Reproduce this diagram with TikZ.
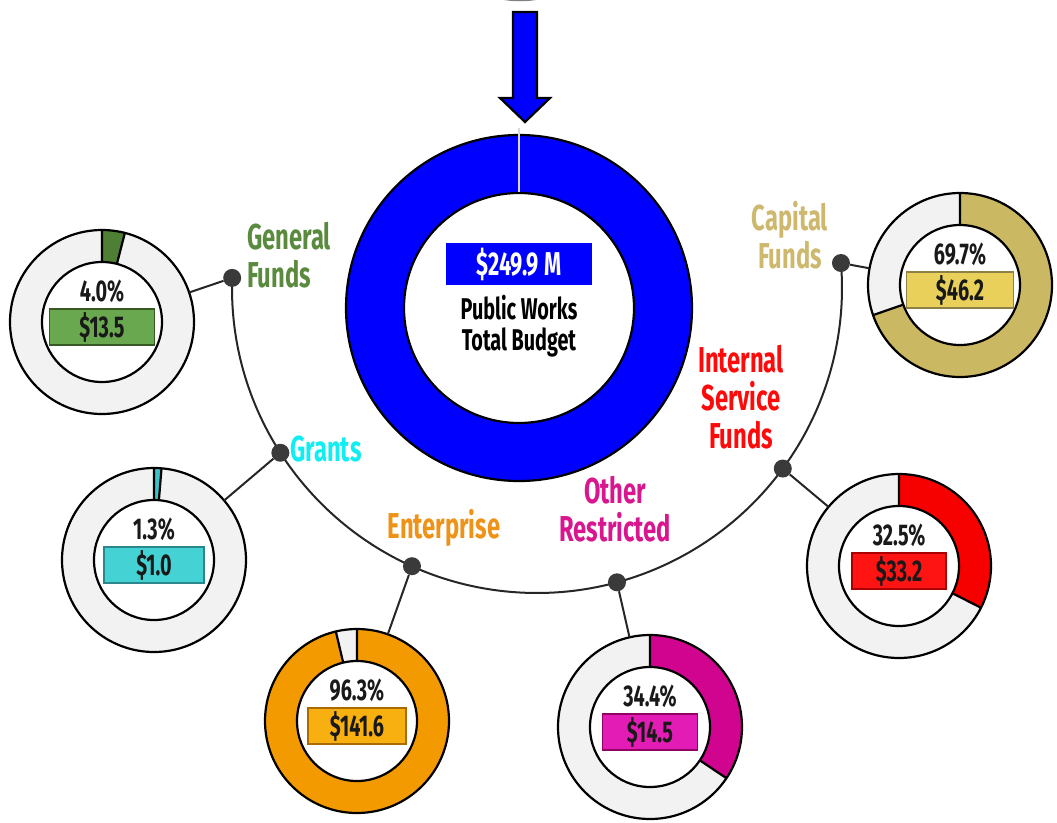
\documentclass[tikz,border=0pt]{standalone}
\usepackage{fontspec}
\newfontfamily\cf{Fira Sans}[FakeStretch=0.66]
\usetikzlibrary{calc}

% colours of the six funds
\definecolor{genring}{HTML}{4F7F35}\definecolor{genbox}{HTML}{6AA84F}\definecolor{gentext}{HTML}{5A8A3E}
\definecolor{graring}{HTML}{3CC3C8}\definecolor{grabox}{HTML}{45D2D4}\definecolor{gratext}{HTML}{10EEF2}
\definecolor{entring}{HTML}{F39A00}\definecolor{entbox}{HTML}{F8B010}\definecolor{enttext}{HTML}{EE9318}
\definecolor{othring}{HTML}{D0048E}\definecolor{othbox}{HTML}{E21CB4}\definecolor{othtext}{HTML}{D8168E}
\definecolor{intring}{HTML}{F60000}\definecolor{intbox}{HTML}{FF1414}\definecolor{inttext}{HTML}{FF0A0A}
\definecolor{capring}{HTML}{CBB862}\definecolor{capbox}{HTML}{E8D05A}\definecolor{captext}{HTML}{CDB86E}
\definecolor{pwblue}{HTML}{0000FF}
\definecolor{hubdot}{HTML}{3A3A3A}

\tikzset{
  ringbg/.style={fill=white!95!black},
  ringline/.style={draw=black, line width=2.2pt},
  pcttext/.style={font=\cf\bfseries\fontsize{30}{30}\selectfont, text=black!90, inner sep=0pt},
  amtbox/.style={font=\cf\bfseries\fontsize{30}{30}\selectfont, text=black!90, minimum height=36pt, inner sep=0pt, line width=1.4pt},
  fundlabel/.style={font=\cf\bfseries\fontsize{36}{38}\selectfont, inner sep=0pt},
  hubnode/.style={circle, fill=hubdot, minimum size=18pt, inner sep=0pt},
  arcline/.style={draw=black!85, line width=2pt},
  conn/.style={draw=black!85, line width=2pt},
  ringholder/.style={circle, minimum size=184pt, inner sep=0pt},
}

% #1 name, #2 x, #3 y (downwards), #4 slice angle, #5 colour prefix, #6 share, #7 amount, #8 box width
\newcommand\fundring[8]{%
  \begin{scope}[shift={(#2,-#3)}]
    \fill[ringbg, even odd rule] (0,0) circle[radius=92] (0,0) circle[radius=60];
    \fill[#5ring] (90:92) arc[start angle=90, end angle=90-#4, radius=92]
      -- (90-#4:60) arc[start angle=90-#4, end angle=90, radius=60] -- cycle;
    \fill[white] (0,0) circle[radius=60];
    \draw[ringline] (0,0) circle[radius=92];
    \draw[ringline] (0,0) circle[radius=60];
    \draw[ringline] (90:60) -- (90:92) (90-#4:60) -- (90-#4:92);
    \node[pcttext] at (0,31) {#6};
    \node[amtbox, fill=#5box, draw=#5ring!70!black, minimum width=#8pt] at (0,-5) {#7};
  \end{scope}
  \node[ringholder] (#1) at (#2,-#3) {};
}

\begin{document}
\begin{tikzpicture}[x=1pt,y=1pt]
\useasboundingbox (0,0) rectangle (1057,-822);

% edge of the element above the arrow
\draw[white!50!black, line width=2.5pt, fill=white] (520,12) ellipse (36 and 12);

% block arrow into the total
\draw[line width=2.2pt, fill=pwblue, line join=miter]
  (513,-12) -- (537,-12) -- (537,-98) -- (550,-98) -- (525,-122) -- (500,-98) -- (513,-98) -- cycle;

% total budget ring
\node[circle, minimum size=346pt, inner sep=0pt] (total) at (519,-308) {};
\fill[pwblue, even odd rule] (total.center) circle[radius=173] (total.center) circle[radius=115];
\draw[line width=2.2pt] (total.center) circle[radius=173];
\draw[line width=2.2pt] (total.center) circle[radius=115];
\draw[white!85!black, line width=1.8pt] (519,-128) -- (519,-192);
\node[fill=pwblue, minimum width=146pt, minimum height=42pt, inner sep=0pt,
      font=\cf\bfseries\fontsize{33}{33}\selectfont, text=white] (totbox) at (519,-264) {\$249.9 M};
\node[font=\cf\bfseries\fontsize{30}{31}\selectfont, align=center, inner sep=0pt] (totlbl)
  at (519,-326) {Public Works\\Total Budget};

% distribution arc
\coordinate (hub) at (537,-288);
\draw[arcline] ([shift={(178.1:305)}]hub) arc[start angle=178.1, end angle=364.7, radius=305];

% fund rings
\fundring{gen}{102}{322}{14.4}{gen}{4.0\%}{\$13.5}{105}
\fundring{gra}{154}{560}{4.68}{gra}{1.3\%}{\$1.0}{100}
\fundring{ent}{357}{721}{346.7}{ent}{96.3\%}{\$141.6}{98}
\fundring{oth}{650}{727}{123.8}{oth}{34.4\%}{\$14.5}{95}
\fundring{int}{899}{566}{117}{int}{32.5\%}{\$33.2}{94}
\fundring{cap}{960}{285}{250.9}{cap}{69.7\%}{\$46.2}{107}

% hub points on the arc
\node[hubnode] (dgen) at ([shift={(178.1:305)}]hub) {};
\node[hubnode] (dgra) at ([shift={(212.7:305)}]hub) {};
\node[hubnode] (dent) at ([shift={(245.8:305)}]hub) {};
\node[hubnode] (doth) at ([shift={(285.2:305)}]hub) {};
\node[hubnode] (dint) at ([shift={(323.7:305)}]hub) {};
\node[hubnode] (dcap) at ([shift={(364.7:305)}]hub) {};

% connectors
\draw[conn] (dgen) -- (gen);
\draw[conn] (dgra) -- (gra);
\draw[conn] (dent) -- (ent);
\draw[conn] (doth) -- (oth);
\draw[conn] (dint) -- (int);
\draw[conn] (dcap) -- (cap);

% fund names
\node[fundlabel, text=gentext, align=left, anchor=west] at (247,-255) {General\\Funds};
\node[fundlabel, text=gratext, anchor=west] at (290,-449) {Grants};
\node[fundlabel, text=enttext] at (444,-528) {Enterprise};
\node[fundlabel, text=othtext, align=center] at (615,-509) {Other\\Restricted};
\node[fundlabel, text=inttext, align=center] at (741,-397) {Internal\\Service\\Funds};
\node[fundlabel, text=captext, align=center] at (790,-235) {Capital\\Funds};
\end{tikzpicture}
\end{document}
